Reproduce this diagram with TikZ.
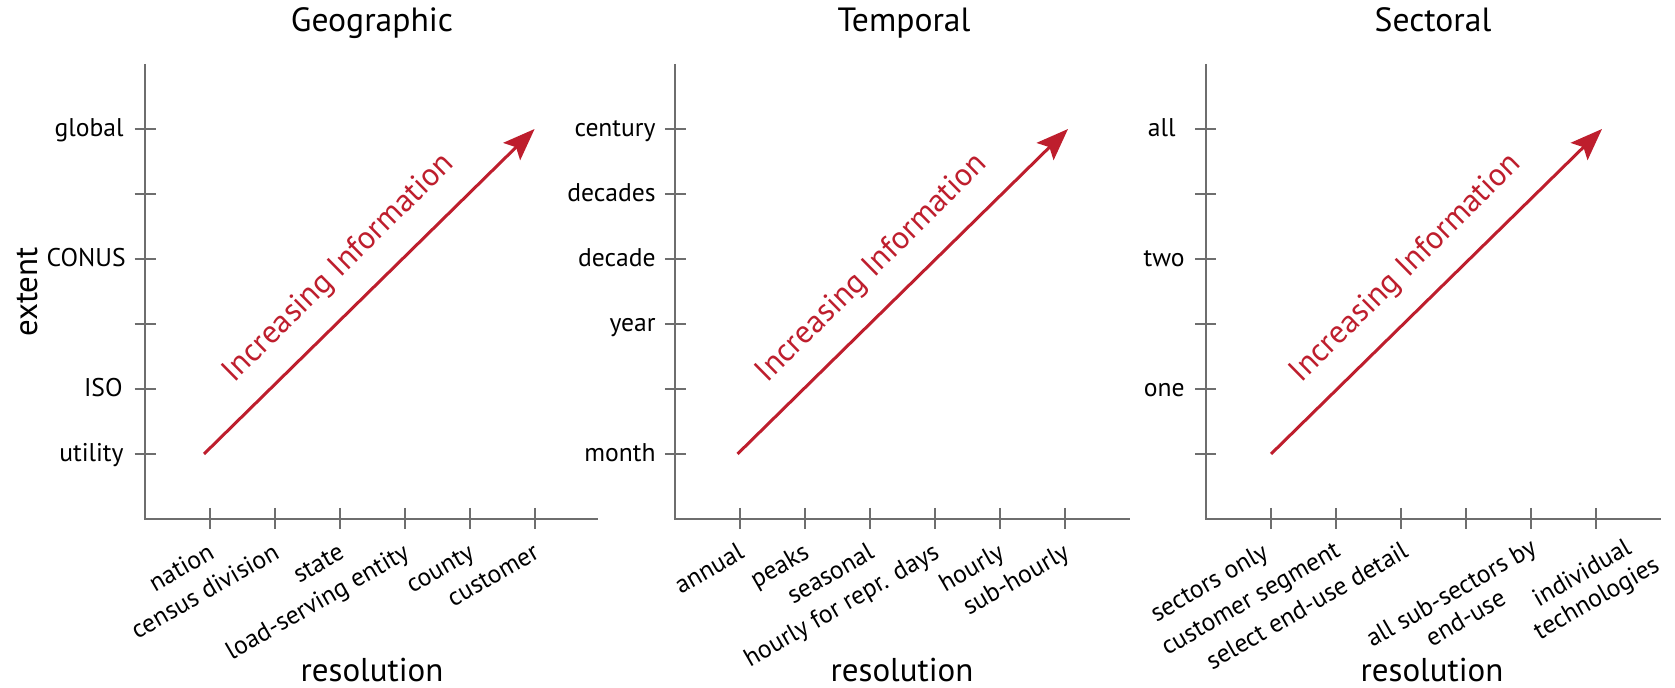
\documentclass[tikz,border=0pt]{standalone}
\usepackage{fontspec}
\setmainfont{PT Sans}
\usetikzlibrary{arrows.meta}
\definecolor{axisgray}{RGB}{110,110,110}
\definecolor{infored}{RGB}{190,30,45}
\begin{document}
\begin{tikzpicture}[x=0.5pt,y=-0.5pt,
  axis/.style={draw=axisgray, line width=1pt},
  ticklab/.style={anchor=base east, inner sep=0pt, font=\fontsize{12.8}{14.5}\selectfont},
  xlab/.style={anchor=base east, inner sep=0pt, rotate=30, font=\fontsize{12.8}{14.5}\selectfont},
  xlabtwo/.style={anchor=center, align=center, inner sep=0pt, rotate=30, font=\fontsize{12.8}{14.5}\selectfont},
  paneltitle/.style={anchor=base, inner sep=0pt, font=\fontsize{16.8}{20}\selectfont},
  axlab/.style={anchor=base, inner sep=0pt, font=\fontsize{16.5}{19}\selectfont},
  infoarrow/.style={draw=infored, line width=1.5pt, -{Stealth[length=16pt,width=12pt,inset=3pt]}},
  infotext/.style={text=infored, rotate=44.6, inner sep=0pt, font=\fontsize{16}{19}\selectfont}]
\useasboundingbox (0,0) rectangle (1675,688);

% ---------- Panel 1: Geographic ----------
\draw[axis] (145,64) -- (145,519) -- (598,519);
\foreach \k in {1,...,6} {
  \draw[axis] (134.5,519-65*\k) -- ++(21,0);
  \draw[axis] (145+65*\k,508) -- ++(0,21);
}
\node[paneltitle] (t1) at (372,32) {Geographic};
\node[axlab] (r1) at (372,682) {resolution};
\node[axlab, rotate=90] (ext) at (37,292) {extent};
\node[ticklab] (g6) at (124,137) {global};
\node[ticklab] (g4) at (126,267) {CONUS};
\node[ticklab] (g2) at (123,397) {ISO};
\node[ticklab] (g1) at (124,462) {utility};
\node[xlab] (gx1) at (216,557) {nation};
\node[xlab] (gx2) at (281,557) {census division};
\node[xlab] (gx3) at (346,557) {state};
\node[xlab] (gx4) at (411,557) {load-serving entity};
\node[xlab] (gx5) at (476,557) {county};
\node[xlab] (gx6) at (541,557) {customer};
\coordinate (a1s) at (204,454);
\coordinate (a1e) at (534.6,129);
\draw[infoarrow] (a1s) -- (a1e);
\node[infotext] (i1) at (339,268.5) {Increasing Information};

% ---------- Panel 2: Temporal ----------
\draw[axis] (675.4,64) -- (675.4,519) -- (1130,519);
\foreach \k in {1,...,6} {
  \draw[axis] (664.9,519-65*\k) -- ++(21,0);
  \draw[axis] (675.4+65*\k,508) -- ++(0,21);
}
\node[paneltitle] (t2) at (904,32) {Temporal};
\node[axlab] (r2) at (902,682) {resolution};
\node[ticklab] (p6) at (656,137) {century};
\node[ticklab] (p5) at (656,202) {decades};
\node[ticklab] (p4) at (656,267) {decade};
\node[ticklab] (p3) at (656,332) {year};
\node[ticklab] (p1) at (656,462) {month};
\node[xlab] (px1) at (746,557) {annual};
\node[xlab] (px2) at (811,557) {peaks};
\node[xlab] (px3) at (876,557) {seasonal};
\node[xlab] (px4) at (941,557) {hourly for repr. days};
\node[xlab] (px5) at (1006,557) {hourly};
\node[xlab] (px6) at (1071,557) {sub-hourly};
\coordinate (a2s) at (737.5,454);
\coordinate (a2e) at (1068,129);
\draw[infoarrow] (a2s) -- (a2e);
\node[infotext] (i2) at (872.4,268.5) {Increasing Information};

% ---------- Panel 3: Sectoral ----------
\draw[axis] (1205.7,64) -- (1205.7,519) -- (1660.5,519);
\foreach \k in {1,...,6} {
  \draw[axis] (1195.2,519-65*\k) -- ++(21,0);
  \draw[axis] (1205.7+65*\k,508) -- ++(0,21);
}
\node[paneltitle] (t3) at (1433,32) {Sectoral};
\node[axlab] (r3) at (1432,682) {resolution};
\node[ticklab] (s6) at (1176,137) {all};
\node[ticklab] (s4) at (1185,267) {two};
\node[ticklab] (s2) at (1185,397) {one};
\node[xlab] (sx1) at (1270,557) {sectors only};
\node[xlab] (sx2) at (1342,555) {customer segment};
\node[xlab] (sx3) at (1410,556) {select end-use detail};
\node[xlabtwo] (sx4) at (1458,605) {all sub-sectors by\\end-use};
\node[xlabtwo] (sx5) at (1590,587) {individual\\technologies};
\coordinate (a3s) at (1271,454);
\coordinate (a3e) at (1602,129);
\draw[infoarrow] (a3s) -- (a3e);
\node[infotext] (i3) at (1406.4,268.5) {Increasing Information};
\end{tikzpicture}
\end{document}
